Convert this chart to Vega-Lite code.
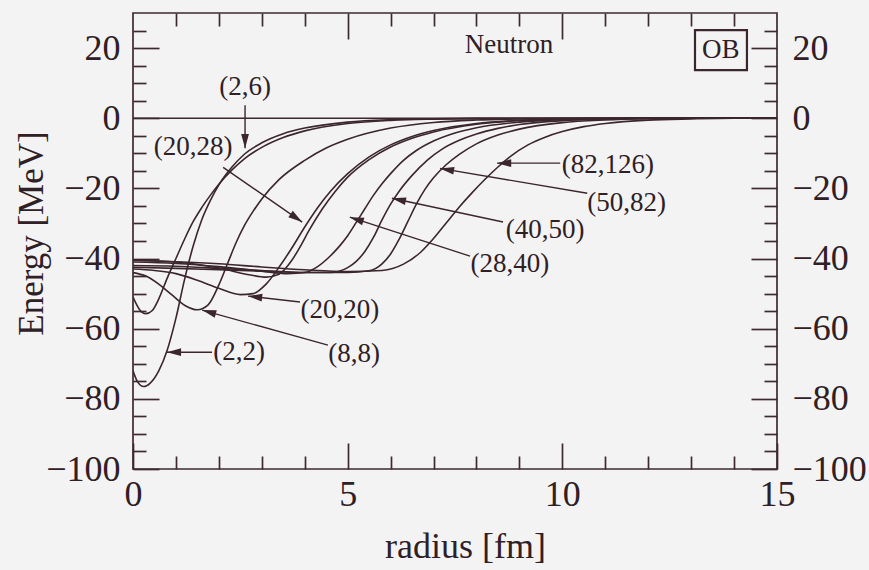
{
 "$schema": "https://vega.github.io/schema/vega-lite/v6.json",
 "width": 644, "height": 456,
 "autosize": "none",
 "padding": {"left": 133, "top": 13, "right": 92, "bottom": 101},
 "background": "#f4f3f4",
 "config": {
  "view": {"stroke": "#3d2a30", "strokeWidth": 1.7},
  "axis": {"domain": false, "grid": false, "tickColor": "#3d2a30", "tickWidth": 1.7,
   "labelFont": "Liberation Serif", "labelFontSize": 36, "labelColor": "#2e2024",
   "titleFont": "Liberation Serif", "titleFontSize": 36, "titleFontWeight": "normal", "titleColor": "#2e2024",
   "labelFlush": false, "labelOverlap": false}
 },
 "datasets": {
  "curves": [
   {"s":"(2,2)","r":0,"E":-72},{"s":"(2,2)","r":0.1,"E":-75},{"s":"(2,2)","r":0.25,"E":-76.5},{"s":"(2,2)","r":0.4,"E":-75.5},{"s":"(2,2)","r":0.6,"E":-72},{"s":"(2,2)","r":0.8,"E":-66},{"s":"(2,2)","r":1.0,"E":-57},{"s":"(2,2)","r":1.2,"E":-46},{"s":"(2,2)","r":1.4,"E":-36.5},{"s":"(2,2)","r":1.6,"E":-29},{"s":"(2,2)","r":1.8,"E":-23.5},{"s":"(2,2)","r":2.0,"E":-19},{"s":"(2,2)","r":2.3,"E":-14},{"s":"(2,2)","r":2.6,"E":-10.2},{"s":"(2,2)","r":3.0,"E":-7},{"s":"(2,2)","r":3.5,"E":-4.4},{"s":"(2,2)","r":4.0,"E":-2.8},{"s":"(2,2)","r":5.0,"E":-1.1},{"s":"(2,2)","r":6.0,"E":-0.4},{"s":"(2,2)","r":7.0,"E":-0.15},{"s":"(2,2)","r":8.0,"E":-0.05},{"s":"(2,2)","r":10,"E":0},{"s":"(2,2)","r":15,"E":0},
   {"s":"(2,6)","r":0,"E":-51},{"s":"(2,6)","r":0.15,"E":-54.5},{"s":"(2,6)","r":0.3,"E":-55.7},{"s":"(2,6)","r":0.45,"E":-54.8},{"s":"(2,6)","r":0.6,"E":-51.5},{"s":"(2,6)","r":0.8,"E":-45.5},{"s":"(2,6)","r":1.0,"E":-40},{"s":"(2,6)","r":1.2,"E":-34.5},{"s":"(2,6)","r":1.4,"E":-29.5},{"s":"(2,6)","r":1.6,"E":-25.5},{"s":"(2,6)","r":1.8,"E":-22},{"s":"(2,6)","r":2.0,"E":-18.8},{"s":"(2,6)","r":2.3,"E":-14.8},{"s":"(2,6)","r":2.6,"E":-11.5},{"s":"(2,6)","r":3.0,"E":-8.3},{"s":"(2,6)","r":3.5,"E":-5.5},{"s":"(2,6)","r":4.0,"E":-3.6},{"s":"(2,6)","r":5.0,"E":-1.5},{"s":"(2,6)","r":6.0,"E":-0.6},{"s":"(2,6)","r":7.0,"E":-0.25},{"s":"(2,6)","r":8,"E":-0.1},{"s":"(2,6)","r":10,"E":0},{"s":"(2,6)","r":15,"E":0},
   {"s":"(8,8)","r":0,"E":-44},{"s":"(8,8)","r":0.3,"E":-45},{"s":"(8,8)","r":0.6,"E":-47.3},{"s":"(8,8)","r":0.9,"E":-50.3},{"s":"(8,8)","r":1.2,"E":-53.3},{"s":"(8,8)","r":1.5,"E":-54.6},{"s":"(8,8)","r":1.75,"E":-53.2},{"s":"(8,8)","r":2.0,"E":-47.5},{"s":"(8,8)","r":2.2,"E":-41.5},{"s":"(8,8)","r":2.4,"E":-35.5},{"s":"(8,8)","r":2.6,"E":-30.5},{"s":"(8,8)","r":2.8,"E":-26.5},{"s":"(8,8)","r":3.0,"E":-23},{"s":"(8,8)","r":3.4,"E":-17.5},{"s":"(8,8)","r":4.0,"E":-12},{"s":"(8,8)","r":4.5,"E":-8.5},{"s":"(8,8)","r":5.0,"E":-6},{"s":"(8,8)","r":6.0,"E":-2.8},{"s":"(8,8)","r":7.0,"E":-1.2},{"s":"(8,8)","r":8.0,"E":-0.5},{"s":"(8,8)","r":9.0,"E":-0.2},{"s":"(8,8)","r":11,"E":0},{"s":"(8,8)","r":15,"E":0},
   {"s":"(20,20)","r":0,"E":-43},{"s":"(20,20)","r":0.5,"E":-43.4},{"s":"(20,20)","r":1.0,"E":-44.3},{"s":"(20,20)","r":1.5,"E":-46.2},{"s":"(20,20)","r":2.0,"E":-48.5},{"s":"(20,20)","r":2.5,"E":-50.3},{"s":"(20,20)","r":2.8,"E":-50},{"s":"(20,20)","r":3.1,"E":-47.3},{"s":"(20,20)","r":3.4,"E":-42.5},{"s":"(20,20)","r":3.7,"E":-37},{"s":"(20,20)","r":4.0,"E":-31},{"s":"(20,20)","r":4.3,"E":-25.5},{"s":"(20,20)","r":4.6,"E":-20.8},{"s":"(20,20)","r":5.0,"E":-15.8},{"s":"(20,20)","r":5.5,"E":-11},{"s":"(20,20)","r":6.0,"E":-7.6},{"s":"(20,20)","r":6.5,"E":-5.2},{"s":"(20,20)","r":7.0,"E":-3.5},{"s":"(20,20)","r":8.0,"E":-1.5},{"s":"(20,20)","r":9.0,"E":-0.6},{"s":"(20,20)","r":10,"E":-0.2},{"s":"(20,20)","r":12,"E":0},{"s":"(20,20)","r":15,"E":0},
   {"s":"(20,28)","r":0,"E":-40.5},{"s":"(20,28)","r":1.0,"E":-41},{"s":"(20,28)","r":2.0,"E":-42.7},{"s":"(20,28)","r":2.7,"E":-44.6},{"s":"(20,28)","r":3.1,"E":-45.3},{"s":"(20,28)","r":3.4,"E":-44.5},{"s":"(20,28)","r":3.7,"E":-40.5},{"s":"(20,28)","r":3.9,"E":-36.5},{"s":"(20,28)","r":4.1,"E":-32},{"s":"(20,28)","r":4.4,"E":-26},{"s":"(20,28)","r":4.7,"E":-21},{"s":"(20,28)","r":5.0,"E":-16.8},{"s":"(20,28)","r":5.5,"E":-11.8},{"s":"(20,28)","r":6.0,"E":-8.2},{"s":"(20,28)","r":6.5,"E":-5.7},{"s":"(20,28)","r":7.0,"E":-3.9},{"s":"(20,28)","r":8.0,"E":-1.7},{"s":"(20,28)","r":9.0,"E":-0.7},{"s":"(20,28)","r":10,"E":-0.25},{"s":"(20,28)","r":12,"E":0},{"s":"(20,28)","r":15,"E":0},
   {"s":"(28,40)","r":0,"E":-41},{"s":"(28,40)","r":1,"E":-41.4},{"s":"(28,40)","r":2,"E":-42.3},{"s":"(28,40)","r":3,"E":-43.6},{"s":"(28,40)","r":3.6,"E":-44.3},{"s":"(28,40)","r":4.0,"E":-44},{"s":"(28,40)","r":4.3,"E":-42.3},{"s":"(28,40)","r":4.6,"E":-39.2},{"s":"(28,40)","r":4.8,"E":-36.6},{"s":"(28,40)","r":5.0,"E":-33.5},{"s":"(28,40)","r":5.2,"E":-29.7},{"s":"(28,40)","r":5.4,"E":-25.8},{"s":"(28,40)","r":5.6,"E":-22},{"s":"(28,40)","r":5.8,"E":-18.7},{"s":"(28,40)","r":6.0,"E":-15.8},{"s":"(28,40)","r":6.3,"E":-12},{"s":"(28,40)","r":6.6,"E":-9.2},{"s":"(28,40)","r":7.0,"E":-6.5},{"s":"(28,40)","r":7.5,"E":-4.2},{"s":"(28,40)","r":8.0,"E":-2.7},{"s":"(28,40)","r":9.0,"E":-1.1},{"s":"(28,40)","r":10,"E":-0.4},{"s":"(28,40)","r":11,"E":-0.15},{"s":"(28,40)","r":12.5,"E":0},{"s":"(28,40)","r":15,"E":0},
   {"s":"(40,50)","r":0,"E":-42},{"s":"(40,50)","r":1,"E":-42.2},{"s":"(40,50)","r":2,"E":-42.8},{"s":"(40,50)","r":3,"E":-43.4},{"s":"(40,50)","r":4,"E":-44},{"s":"(40,50)","r":4.6,"E":-44},{"s":"(40,50)","r":5.0,"E":-42.6},{"s":"(40,50)","r":5.2,"E":-40.8},{"s":"(40,50)","r":5.4,"E":-38},{"s":"(40,50)","r":5.6,"E":-34},{"s":"(40,50)","r":5.8,"E":-29},{"s":"(40,50)","r":6.0,"E":-24.5},{"s":"(40,50)","r":6.2,"E":-20.8},{"s":"(40,50)","r":6.5,"E":-16.3},{"s":"(40,50)","r":6.85,"E":-12},{"s":"(40,50)","r":7.2,"E":-8.8},{"s":"(40,50)","r":7.6,"E":-6.3},{"s":"(40,50)","r":8.0,"E":-4.5},{"s":"(40,50)","r":8.5,"E":-2.9},{"s":"(40,50)","r":9.0,"E":-1.8},{"s":"(40,50)","r":10,"E":-0.7},{"s":"(40,50)","r":11,"E":-0.25},{"s":"(40,50)","r":12.5,"E":0},{"s":"(40,50)","r":15,"E":0},
   {"s":"(50,82)","r":0,"E":-42.5},{"s":"(50,82)","r":1,"E":-42.8},{"s":"(50,82)","r":2,"E":-43.2},{"s":"(50,82)","r":3,"E":-43.6},{"s":"(50,82)","r":4,"E":-44},{"s":"(50,82)","r":5,"E":-44},{"s":"(50,82)","r":5.5,"E":-43.5},{"s":"(50,82)","r":5.8,"E":-41.5},{"s":"(50,82)","r":6.0,"E":-38.7},{"s":"(50,82)","r":6.2,"E":-34.5},{"s":"(50,82)","r":6.4,"E":-29.5},{"s":"(50,82)","r":6.6,"E":-24.5},{"s":"(50,82)","r":6.8,"E":-20.3},{"s":"(50,82)","r":7.0,"E":-17},{"s":"(50,82)","r":7.3,"E":-13.2},{"s":"(50,82)","r":7.6,"E":-10.3},{"s":"(50,82)","r":8.0,"E":-7.3},{"s":"(50,82)","r":8.5,"E":-4.8},{"s":"(50,82)","r":9.0,"E":-3.1},{"s":"(50,82)","r":10,"E":-1.25},{"s":"(50,82)","r":11,"E":-0.5},{"s":"(50,82)","r":12,"E":-0.15},{"s":"(50,82)","r":13,"E":0},{"s":"(50,82)","r":15,"E":0},
   {"s":"(82,126)","r":0,"E":-40.5},{"s":"(82,126)","r":1,"E":-40.9},{"s":"(82,126)","r":2,"E":-41.5},{"s":"(82,126)","r":3,"E":-42.4},{"s":"(82,126)","r":4,"E":-43.2},{"s":"(82,126)","r":5,"E":-43.7},{"s":"(82,126)","r":5.8,"E":-43.4},{"s":"(82,126)","r":6.3,"E":-41.6},{"s":"(82,126)","r":6.7,"E":-38.2},{"s":"(82,126)","r":7.0,"E":-34.3},{"s":"(82,126)","r":7.3,"E":-29.8},{"s":"(82,126)","r":7.6,"E":-25.3},{"s":"(82,126)","r":7.9,"E":-21.2},{"s":"(82,126)","r":8.2,"E":-17.4},{"s":"(82,126)","r":8.5,"E":-13.9},{"s":"(82,126)","r":8.8,"E":-10.8},{"s":"(82,126)","r":9.2,"E":-7.6},{"s":"(82,126)","r":9.6,"E":-5.4},{"s":"(82,126)","r":10,"E":-3.8},{"s":"(82,126)","r":10.5,"E":-2.4},{"s":"(82,126)","r":11,"E":-1.5},{"s":"(82,126)","r":12,"E":-0.55},{"s":"(82,126)","r":13,"E":-0.2},{"s":"(82,126)","r":14,"E":0},{"s":"(82,126)","r":15,"E":0}
  ],
  "arrows": [
   {"s":"(2,6)","x":2.61,"y":3.7,"x2":2.61,"y2":-8.55,"dir":180},
   {"s":"(20,28)","x":2.10,"y":-14.0,"x2":3.94,"y2":-29.6,"dir":124.8},
   {"s":"(82,126)","x":9.95,"y":-12.8,"x2":8.48,"y2":-12.8,"dir":270},
   {"s":"(50,82)","x":10.58,"y":-21.4,"x2":7.15,"y2":-14.3,"dir":279.7},
   {"s":"(40,50)","x":8.62,"y":-29.6,"x2":6.03,"y2":-22.8,"dir":282.2},
   {"s":"(28,40)","x":7.85,"y":-39.3,"x2":5.05,"y2":-28.2,"dir":288},
   {"s":"(20,20)","x":3.89,"y":-52.4,"x2":2.68,"y2":-50.7,"dir":276.6},
   {"s":"(8,8)","x":4.54,"y":-64.7,"x2":1.61,"y2":-54.7,"dir":285.5},
   {"s":"(2,2)","x":1.84,"y":-66.7,"x2":0.79,"y2":-66.7,"dir":270}
  ],
  "labels": [
   {"t":"(2,6)","x":2.61,"y":8.8},
   {"t":"(20,28)","x":1.40,"y":-8.3},
   {"t":"(82,126)","x":11.06,"y":-13.4},
   {"t":"(50,82)","x":11.5,"y":-24.2},
   {"t":"(40,50)","x":9.6,"y":-31.9},
   {"t":"(28,40)","x":8.78,"y":-41.6},
   {"t":"(20,20)","x":4.82,"y":-54.7},
   {"t":"(8,8)","x":5.15,"y":-67.3},
   {"t":"(2,2)","x":2.47,"y":-66.7},
   {"t":"Neutron","x":8.76,"y":20.8},
   {"t":"OB","x":13.69,"y":19.4}
  ],
  "box": [{"x":13.09,"x2":14.30,"y":25.1,"y2":13.7}]
 },
 "resolve": {"axis": {"x": "independent", "y": "independent"}},
 "layer": [
  {
   "data": {"name": "curves"},
   "mark": {"type": "line", "interpolate": "monotone", "stroke": "#3a262c", "strokeWidth": 1.6, "clip": true},
   "encoding": {
    "x": {"field": "r", "type": "quantitative", "scale": {"domain": [0, 15], "nice": false, "zero": false},
     "axis": {"orient": "bottom", "values": [0, 5, 10, 15], "tickSize": -26, "labelPadding": 34, "title": "radius [fm]", "titleX": 332, "titleY": 88, "titleBaseline": "alphabetic"}},
    "y": {"field": "E", "type": "quantitative", "scale": {"domain": [-100, 30], "nice": false, "zero": false},
     "axis": {"orient": "left", "values": [-100, -80, -60, -40, -20, 0, 20], "tickSize": -26, "labelPadding": 39, "title": "Energy [MeV]", "titleX": -91, "titleY": 220, "titleAngle": -90, "titleBaseline": "alphabetic", "titleAlign": "center", "titleFontSize": 35}},
    "detail": {"field": "s"}
   }
  },
  {
   "data": {"values": [{}]},
   "mark": {"type": "rule", "stroke": "#3a262c", "strokeWidth": 1.6},
   "encoding": {
    "x": {"datum": 0, "type": "quantitative", "scale": {"domain": [0, 15], "nice": false, "zero": false},
     "axis": {"orient": "bottom", "values": [1, 2, 3, 4, 6, 7, 8, 9, 11, 12, 13, 14], "tickSize": -13, "labels": false, "title": null}},
    "x2": {"datum": 15},
    "y": {"datum": 0, "type": "quantitative", "scale": {"domain": [-100, 30], "nice": false, "zero": false},
     "axis": {"orient": "left", "values": [-95, -90, -85, -75, -70, -65, -55, -50, -45, -35, -30, -25, -15, -10, -5, 5, 10, 15, 25], "tickSize": -13, "labels": false, "title": null}}
   }
  },
  {
   "data": {"name": "arrows"},
   "mark": {"type": "rule", "stroke": "#3a262c", "strokeWidth": 1.4},
   "encoding": {
    "x": {"field": "x", "type": "quantitative", "scale": {"domain": [0, 15], "nice": false, "zero": false},
     "axis": {"orient": "top", "values": [5, 10], "tickSize": -26, "labels": false, "title": null}},
    "x2": {"field": "x2"},
    "y": {"field": "y", "type": "quantitative", "scale": {"domain": [-100, 30], "nice": false, "zero": false},
     "axis": {"orient": "right", "values": [-100, -80, -60, -40, -20, 0, 20], "tickSize": -26, "labelPadding": 41, "title": null, "labelExpr": "datum.value >= 0 ? '\u2007' + datum.label : datum.label"}},
    "y2": {"field": "y2"}
   }
  },
  {
   "data": {"name": "arrows"},
   "mark": {"type": "point", "shape": "M0,0L-0.55,2L0.55,2Z", "filled": true, "fill": "#3a262c", "stroke": null, "size": 200, "opacity": 1},
   "encoding": {
    "x": {"field": "x2", "type": "quantitative", "scale": {"domain": [0, 15], "nice": false, "zero": false},
     "axis": {"orient": "top", "values": [1, 2, 3, 4, 6, 7, 8, 9, 11, 12, 13, 14], "tickSize": -13, "labels": false, "title": null}},
    "y": {"field": "y2", "type": "quantitative", "scale": {"domain": [-100, 30], "nice": false, "zero": false},
     "axis": {"orient": "right", "values": [-95, -90, -85, -75, -70, -65, -55, -50, -45, -35, -30, -25, -15, -10, -5, 5, 10, 15, 25], "tickSize": -13, "labels": false, "title": null}},
    "angle": {"field": "dir", "type": "quantitative", "scale": null}
   }
  },
  {
   "data": {"name": "box"},
   "mark": {"type": "rect", "fill": null, "stroke": "#3a262c", "strokeWidth": 2.2},
   "encoding": {
    "x": {"field": "x", "type": "quantitative", "axis": null},
    "x2": {"field": "x2"},
    "y": {"field": "y", "type": "quantitative", "axis": null},
    "y2": {"field": "y2"}
   }
  },
  {
   "data": {"name": "labels"},
   "mark": {"type": "text", "font": "Liberation Serif", "fontSize": 27, "fill": "#2e2024", "align": "center", "baseline": "middle"},
   "encoding": {
    "x": {"field": "x", "type": "quantitative", "axis": null},
    "y": {"field": "y", "type": "quantitative", "axis": null},
    "text": {"field": "t"}
   }
  }
 ]
}
